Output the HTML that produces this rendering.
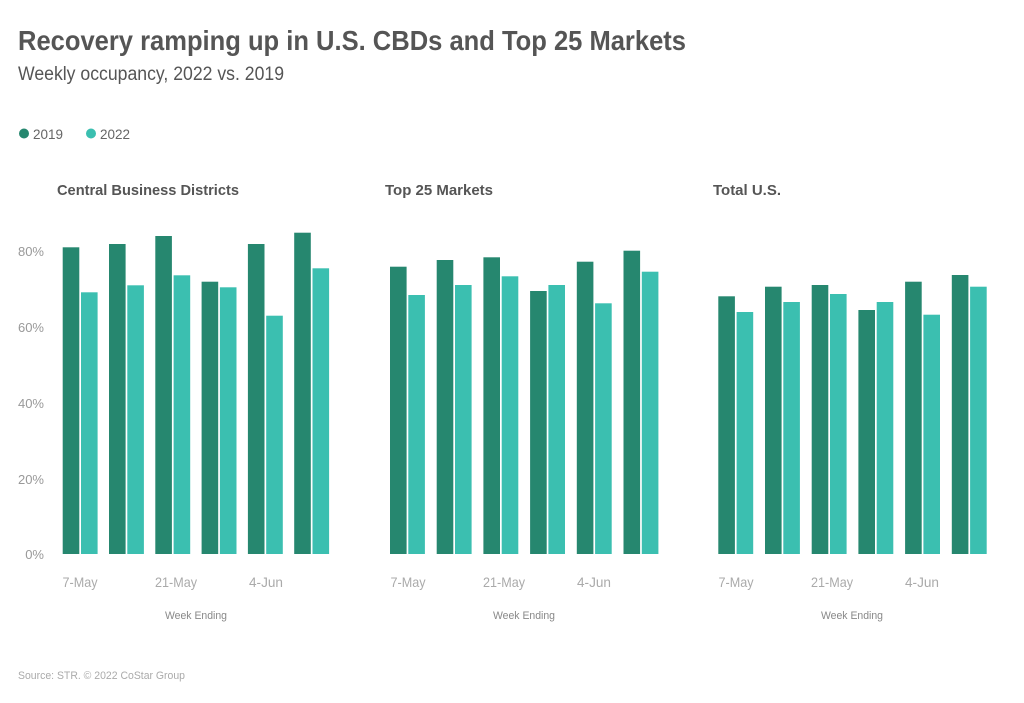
<!DOCTYPE html>
<html><head><meta charset="utf-8"><style>
html,body{margin:0;padding:0;background:#fff;}
svg{display:block;font-family:"Liberation Sans",sans-serif;}
</style></head><body>
<svg width="1024" height="703" viewBox="0 0 1024 703" xmlns="http://www.w3.org/2000/svg">
<rect width="1024" height="703" fill="#fff"/>
<text x="18" y="50" font-size="28" font-weight="bold" fill="#555" textLength="668" lengthAdjust="spacingAndGlyphs">Recovery ramping up in U.S. CBDs and Top 25 Markets</text>
<text x="18" y="80" font-size="19" fill="#555" textLength="266" lengthAdjust="spacingAndGlyphs">Weekly occupancy, 2022 vs. 2019</text>
<circle cx="24" cy="133.5" r="5" fill="#26876f"/>
<text x="33" y="139" font-size="14" fill="#666" textLength="30" lengthAdjust="spacingAndGlyphs">2019</text>
<circle cx="91" cy="133.5" r="5" fill="#3bbfb0"/>
<text x="100" y="139" font-size="14" fill="#666" textLength="30" lengthAdjust="spacingAndGlyphs">2022</text>
<g font-size="15" font-weight="bold" fill="#555">
<text x="57" y="195" textLength="182" lengthAdjust="spacingAndGlyphs">Central Business Districts</text>
<text x="385" y="195" textLength="108" lengthAdjust="spacingAndGlyphs">Top 25 Markets</text>
<text x="713" y="195" textLength="68" lengthAdjust="spacingAndGlyphs">Total U.S.</text>
</g>
<g font-size="13" fill="#999" text-anchor="end">
<text x="44" y="256">80%</text>
<text x="44" y="332">60%</text>
<text x="44" y="408">40%</text>
<text x="44" y="484">20%</text>
<text x="44" y="559">0%</text>
</g>
<g fill="#26876f">
<rect x="62.7" y="247.3" width="16.6" height="306.7"/>
<rect x="109" y="244" width="16.6" height="310"/>
<rect x="155.3" y="236" width="16.6" height="318"/>
<rect x="201.6" y="281.7" width="16.6" height="272.3"/>
<rect x="247.9" y="244" width="16.6" height="310"/>
<rect x="294.2" y="232.7" width="16.6" height="321.3"/>
</g>
<g fill="#3bbfb0">
<rect x="81" y="292.3" width="16.6" height="261.7"/>
<rect x="127.3" y="285.3" width="16.6" height="268.7"/>
<rect x="173.6" y="275.3" width="16.6" height="278.7"/>
<rect x="219.9" y="287.3" width="16.6" height="266.7"/>
<rect x="266.2" y="315.7" width="16.6" height="238.3"/>
<rect x="312.5" y="268.3" width="16.6" height="285.7"/>
</g>
<g fill="#26876f">
<rect x="390" y="266.7" width="16.6" height="287.3"/>
<rect x="436.7" y="260" width="16.6" height="294"/>
<rect x="483.4" y="257.3" width="16.6" height="296.7"/>
<rect x="530.1" y="291" width="16.6" height="263"/>
<rect x="576.8" y="261.7" width="16.6" height="292.3"/>
<rect x="623.5" y="250.7" width="16.6" height="303.3"/>
</g>
<g fill="#3bbfb0">
<rect x="408.3" y="295" width="16.6" height="259"/>
<rect x="455" y="285" width="16.6" height="269"/>
<rect x="501.7" y="276.3" width="16.6" height="277.7"/>
<rect x="548.4" y="285" width="16.6" height="269"/>
<rect x="595.1" y="303.3" width="16.6" height="250.7"/>
<rect x="641.8" y="271.7" width="16.6" height="282.3"/>
</g>
<g fill="#26876f">
<rect x="718.3" y="296.3" width="16.6" height="257.7"/>
<rect x="765" y="286.7" width="16.6" height="267.3"/>
<rect x="811.7" y="285" width="16.6" height="269"/>
<rect x="858.4" y="310" width="16.6" height="244"/>
<rect x="905.1" y="281.7" width="16.6" height="272.3"/>
<rect x="951.8" y="275" width="16.6" height="279"/>
</g>
<g fill="#3bbfb0">
<rect x="736.6" y="312" width="16.6" height="242"/>
<rect x="783.3" y="302" width="16.6" height="252"/>
<rect x="830" y="294" width="16.6" height="260"/>
<rect x="876.7" y="302" width="16.6" height="252"/>
<rect x="923.4" y="314.7" width="16.6" height="239.3"/>
<rect x="970.1" y="286.7" width="16.6" height="267.3"/>
</g>
<g font-size="14" fill="#aaa" text-anchor="middle" lengthAdjust="spacingAndGlyphs">
<text x="80" y="587" textLength="35" lengthAdjust="spacingAndGlyphs">7-May</text><text x="176" y="587" textLength="42" lengthAdjust="spacingAndGlyphs">21-May</text><text x="266" y="587" textLength="34" lengthAdjust="spacingAndGlyphs">4-Jun</text>
<text x="408" y="587" textLength="35" lengthAdjust="spacingAndGlyphs">7-May</text><text x="504" y="587" textLength="42" lengthAdjust="spacingAndGlyphs">21-May</text><text x="594" y="587" textLength="34" lengthAdjust="spacingAndGlyphs">4-Jun</text>
<text x="736" y="587" textLength="35" lengthAdjust="spacingAndGlyphs">7-May</text><text x="832" y="587" textLength="42" lengthAdjust="spacingAndGlyphs">21-May</text><text x="922" y="587" textLength="34" lengthAdjust="spacingAndGlyphs">4-Jun</text>
</g>
<g font-size="11" fill="#888" text-anchor="middle">
<text x="196" y="619" textLength="62" lengthAdjust="spacingAndGlyphs">Week Ending</text>
<text x="524" y="619" textLength="62" lengthAdjust="spacingAndGlyphs">Week Ending</text>
<text x="852" y="619" textLength="62" lengthAdjust="spacingAndGlyphs">Week Ending</text>
</g>
<text x="18" y="679" font-size="11" fill="#aaa" textLength="167" lengthAdjust="spacingAndGlyphs">Source: STR. © 2022 CoStar Group</text>
</svg>
</body></html>
